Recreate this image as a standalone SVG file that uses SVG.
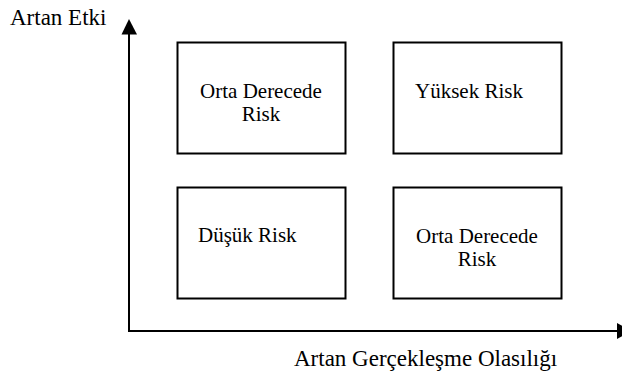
<svg xmlns="http://www.w3.org/2000/svg" width="622" height="376" viewBox="0 0 622 376" font-family="'Liberation Serif', 'Times New Roman', 'DejaVu Serif', serif">
<style>
.box{fill:#fff;stroke:#000;stroke-width:2}
.ax{stroke:#000;stroke-width:2;fill:none}
.head{fill:#000;stroke:none}
text{font-family:'Liberation Serif','Times New Roman','DejaVu Serif',serif;fill:#000}
.lbl{font-size:21px}
.axl{font-size:23px}
.c{text-anchor:middle}
</style>
<rect width="622" height="376" fill="#fff"/>
<g id="connectors">
<line class="ax" x1="129" y1="33" x2="129" y2="331"/>
<line class="ax" x1="128" y1="331" x2="618" y2="331"/>
<polygon class="head" points="129,19 121.5,34.5 137,34.5"/>
<polygon class="head" points="632,331 617,323 617,339"/>
</g>
<g id="axis-y-label"><text class="axl" x="10" y="25">Artan Etki</text></g>
<g id="axis-x-label"><text class="axl" x="294" y="366">Artan Gerçekleşme Olasılığı</text></g>
<g id="orta-1">
<rect class="box" x="177.5" y="42.5" width="168" height="111"/>
<text class="lbl c" x="261" y="98">Orta Derecede</text>
<text class="lbl c" x="261" y="121">Risk</text>
</g>
<g id="yuksek">
<rect class="box" x="393.5" y="42.5" width="168" height="111"/>
<text class="lbl" x="415" y="98">Yüksek Risk</text>
</g>
<g id="dusuk">
<rect class="box" x="177.5" y="187.5" width="168" height="111"/>
<text class="lbl" x="198" y="242">Düşük Risk</text>
</g>
<g id="orta-2">
<rect class="box" x="393.5" y="187.5" width="168" height="111"/>
<text class="lbl c" x="477" y="243">Orta Derecede</text>
<text class="lbl c" x="477" y="266">Risk</text>
</g>
</svg>
